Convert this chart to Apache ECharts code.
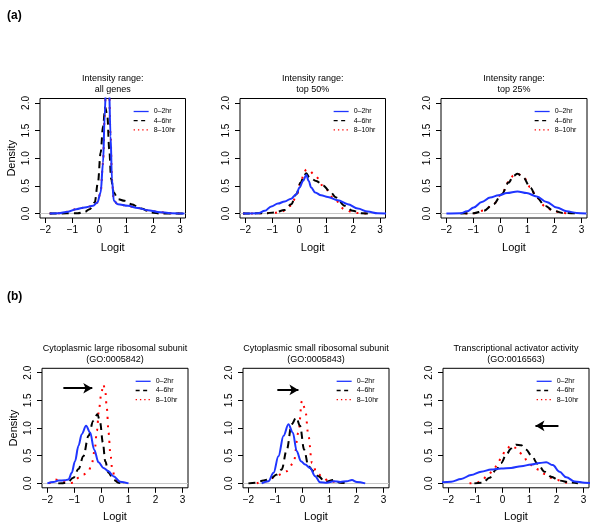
<!DOCTYPE html>
<html><head><meta charset="utf-8">
<script src="https://cdn.jsdelivr.net/npm/echarts@6/dist/echarts.min.js"></script>
<style>html,body{margin:0;padding:0;background:#fff}#c{width:600px;height:526px}</style>
</head><body><div id="c"></div>
<script>
// ---------- data ----------
const seriesNames = ['0–2hr', '4–6hr', '8–10hr'];
const panelTitles = [
  'Intensity range:\nall genes', 'Intensity range:\ntop 50%', 'Intensity range:\ntop 25%',
  'Cytoplasmic large ribosomal subunit\n(GO:0005842)',
  'Cytoplasmic small ribosomal subunit\n(GO:0005843)',
  'Transcriptional activator activity\n(GO:0016563)'
];
const xTicks = [-2, -1, 0, 1, 2, 3];
const yTicks = [0, 0.5, 1, 1.5, 2];

// (a) all genes
const a1_0_2 = [[-1.84,0],[-1.53,0.005],[-1.16,0.035],[-0.85,0.08],[-0.54,0.11],[-0.23,0.14],[-0.07,0.2],[0.05,0.38],[0.14,0.92],[0.2,1.76],[0.27,2.7],[0.35,2.5],[0.42,1.4],[0.47,0.62],[0.54,0.23],[0.69,0.17],[1.06,0.14],[1.43,0.1],[1.8,0.06],[2.17,0.03],[2.67,0.006],[3.16,0]];
const a1_4_6 = [[-1.84,0],[-0.8,0.005],[-0.54,0.03],[-0.36,0.08],[-0.17,0.2],[-0.05,0.56],[0.05,1.1],[0.14,1.58],[0.22,1.92],[0.3,1.76],[0.37,1.16],[0.44,0.62],[0.54,0.38],[0.69,0.26],[0.94,0.23],[1.19,0.17],[1.56,0.09],[1.93,0.02],[2.3,0],[3.16,0]];
const a1_8_10 = [[-1.84,0],[-1.53,0.005],[-1.16,0.035],[-0.85,0.08],[-0.54,0.11],[-0.23,0.14],[-0.07,0.2],[0.05,0.38],[0.14,0.92],[0.2,1.76],[0.27,2.7],[0.35,2.5],[0.42,1.4],[0.47,0.62],[0.54,0.23],[0.69,0.17],[1.06,0.14],[1.43,0.1],[1.8,0.06],[2.17,0.03],[2.67,0.006],[3.16,0]];
// (a) top 50%
const a2_0_2 = [[-2.09,0],[-1.53,0.005],[-1.28,0.05],[-1.04,0.13],[-0.79,0.18],[-0.54,0.22],[-0.3,0.27],[-0.11,0.35],[0.01,0.47],[0.14,0.59],[0.26,0.70],[0.35,0.59],[0.44,0.47],[0.59,0.38],[0.81,0.33],[1.06,0.30],[1.43,0.24],[1.8,0.17],[2.17,0.09],[2.54,0.036],[2.91,0.006],[3.22,0]];
const a2_4_6 = [[-2.09,0],[-1.28,0.005],[-0.91,0.02],[-0.54,0.066],[-0.3,0.17],[-0.11,0.35],[0.05,0.56],[0.17,0.68],[0.26,0.73],[0.38,0.65],[0.63,0.59],[0.88,0.51],[1.12,0.41],[1.37,0.29],[1.68,0.14],[1.99,0.05],[2.3,0.006],[2.67,0]];
const a2_8_10 = [[-2.09,0],[-1.28,0.005],[-0.91,0.015],[-0.67,0.036],[-0.3,0.14],[-0.11,0.32],[0.07,0.59],[0.18,0.74],[0.26,0.80],[0.38,0.77],[0.59,0.68],[0.94,0.47],[1.25,0.29],[1.68,0.08],[1.99,0.02],[2.3,0.004],[2.67,0]];
// (a) top 25%
const a3_0_2 = [[-2,0],[-1.48,0.006],[-1.24,0.04],[-0.99,0.11],[-0.69,0.21],[-0.38,0.29],[-0.07,0.33],[0.24,0.37],[0.63,0.40],[0.97,0.37],[1.34,0.31],[1.71,0.21],[2.08,0.11],[2.45,0.04],[2.82,0.012],[3.18,0]];
const a3_4_6 = [[-1.48,0],[-0.99,0.006],[-0.62,0.05],[-0.26,0.17],[0.05,0.35],[0.30,0.56],[0.48,0.68],[0.63,0.72],[0.85,0.65],[1.10,0.47],[1.34,0.29],[1.65,0.14],[1.96,0.05],[2.32,0.012],[2.94,0]];
const a3_8_10 = [[-1.3,0],[-0.99,0.008],[-0.62,0.055],[-0.26,0.17],[0.05,0.36],[0.30,0.57],[0.48,0.69],[0.63,0.72],[0.85,0.66],[1.10,0.48],[1.34,0.29],[1.65,0.13],[1.96,0.045],[2.32,0.01],[2.6,0]];
// (b) GO:0005842
const b1_0_2 = [[-2,0],[-1.78,0.025],[-1.59,0.05],[-1.35,0.055],[-1.22,0.07],[-1.10,0.19],[-0.98,0.40],[-0.85,0.68],[-0.73,0.89],[-0.57,1.04],[-0.42,0.92],[-0.27,0.61],[-0.11,0.38],[0.07,0.28],[0.26,0.22],[0.44,0.13],[0.69,0.03],[1.0,0]];
const b1_4_6 = [[-1.6,0],[-1.47,0.002],[-1.28,0.01],[-1.04,0.10],[-0.85,0.26],[-0.67,0.49],[-0.48,0.86],[-0.30,1.13],[-0.15,1.25],[-0.05,1.10],[0.05,0.74],[0.14,0.40],[0.26,0.19],[0.44,0.07],[0.63,0.01],[0.8,0]];
const b1_8_10 = [[-1.95,0],[-1.9,0.01],[-1.72,0.07],[-1.47,0.04],[-1.28,0.003],[-1.04,0.01],[-0.85,0.10],[-0.67,0.16],[-0.48,0.22],[-0.36,0.35],[-0.25,0.6],[-0.17,0.95],[-0.09,1.35],[0.0,1.65],[0.07,1.79],[0.14,1.66],[0.2,1.35],[0.26,0.92],[0.33,0.53],[0.40,0.25],[0.5,0.1],[0.63,0.02],[0.81,0]];
// (b) GO:0005843
const b2_0_2 = [[-1.51,0],[-1.26,0.04],[-1.07,0.19],[-0.89,0.49],[-0.70,0.86],[-0.52,1.07],[-0.36,0.92],[-0.21,0.58],[-0.06,0.40],[0.10,0.34],[0.28,0.28],[0.47,0.13],[0.65,0.02],[0.90,0.012],[1.15,0.04],[1.40,0.025],[1.64,0.04],[1.83,0.06],[2.01,0.025],[2.32,0]];
const b2_4_6 = [[-2,0],[-1.75,0.012],[-1.44,0.05],[-1.2,0.08],[-0.95,0.16],[-0.77,0.25],[-0.58,0.61],[-0.40,1.07],[-0.23,1.19],[-0.09,1.04],[0.06,0.61],[0.22,0.31],[0.41,0.22],[0.59,0.13],[0.84,0.024],[1.15,0.06],[1.40,0.012],[1.64,0]];
const b2_8_10 = [[-1.69,0],[-1.32,0.04],[-0.95,0.14],[-0.58,0.22],[-0.33,0.37],[-0.15,0.92],[-0.02,1.49],[0.10,1.34],[0.22,0.86],[0.35,0.37],[0.53,0.19],[0.78,0.10],[0.96,0.04],[1.27,0.025],[1.64,0]];
// (b) GO:0016563
const b3_0_2 = [[-2.4,0.008],[-1.90,0.03],[-1.53,0.08],[-1.16,0.15],[-0.79,0.21],[-0.42,0.25],[-0.05,0.27],[0.32,0.28],[0.69,0.31],[1.06,0.34],[1.37,0.37],[1.62,0.38],[1.86,0.33],[2.11,0.21],[2.36,0.11],[2.67,0.036],[3.04,0.012],[3.35,0]];
const b3_4_6 = [[-1.04,0],[-0.73,0.012],[-0.48,0.10],[-0.23,0.25],[-0.05,0.37],[0.14,0.52],[0.32,0.63],[0.51,0.70],[0.69,0.69],[0.88,0.61],[1.06,0.51],[1.31,0.35],[1.56,0.21],[1.80,0.12],[2.11,0.05],[2.48,0.018],[2.79,0]];
const b3_8_10 = [[-1.22,0],[-0.98,0.002],[-0.79,0.05],[-0.54,0.14],[-0.36,0.23],[-0.17,0.35],[-0.05,0.47],[0.14,0.62],[0.33,0.69],[0.45,0.65],[0.59,0.57],[0.75,0.52],[0.91,0.41],[1.12,0.31],[1.33,0.25],[1.56,0.17],[1.80,0.10],[2.04,0.06],[2.30,0.018],[2.48,0]];

// arrows (panel index, start, end) in data coords
const arrowPanels = [3, 4, 5];
const arrowStart = [[-1.41, 1.72], [-0.93, 1.69], [2.07, 1.04]];
const arrowEnd = [[-0.34, 1.72], [-0.15, 1.69], [1.22, 1.04]];

const panelData = [
  [a1_0_2, a1_4_6, a1_8_10], [a2_0_2, a2_4_6, a2_8_10], [a3_0_2, a3_4_6, a3_8_10],
  [b1_0_2, b1_4_6, b1_8_10], [b2_0_2, b2_4_6, b2_8_10], [b3_0_2, b3_4_6, b3_8_10]
];

// ---------- layout ----------
const FONT = '"Liberation Sans", Arial, Helvetica, sans-serif';
const grids = [
  {left: 40, top: 98.5, width: 145.5, height: 119.5},
  {left: 240, top: 98.5, width: 145.5, height: 119.5},
  {left: 441, top: 98.5, width: 146, height: 119.5},
  {left: 42, top: 368.3, width: 146, height: 119.5},
  {left: 243, top: 368.3, width: 146, height: 119.5},
  {left: 443, top: 368.3, width: 146, height: 119.5}
];
const styles = [
  {color: '#1f35ff', width: 2, type: 'solid'},
  {color: '#000000', width: 2, type: [7, 5]},
  {color: '#ff0000', width: 2, type: [2, 6]}
];
const legendLines = [
  {color: '#1f35ff', width: 1.3, type: 'solid'},
  {color: '#000000', width: 1.3, type: [4, 3.5]},
  {color: '#ff0000', width: 1.3, type: [1.3, 3]}
];
const drawOrder = [2, 1, 0]; // red, black, blue(top)

const option = {
  animation: false,
  backgroundColor: '#fff',
  textStyle: {fontFamily: FONT},
  title: [
    {text: '(a)', left: 7, top: 10, padding: 0, textStyle: {fontSize: 12, fontWeight: 'bold', color: '#000', fontFamily: FONT}},
    {text: '(b)', left: 7, top: 291, padding: 0, textStyle: {fontSize: 12, fontWeight: 'bold', color: '#000', fontFamily: FONT}}
  ],
  grid: [], xAxis: [], yAxis: [], legend: [], series: []
};

grids.forEach((g, i) => {
  option.grid.push({left: g.left, top: g.top, width: g.width, height: g.height,
    show: true, borderColor: '#000', borderWidth: 1, backgroundColor: 'transparent', containLabel: false});
  option.title.push({text: panelTitles[i], left: g.left + g.width / 2, top: g.top - 25.5, padding: 0,
    textAlign: 'center',
    textStyle: {fontSize: 9, fontWeight: 'normal', lineHeight: 11, color: '#000', fontFamily: FONT}});
  option.xAxis.push({type: 'value', gridIndex: i, min: -2.2, max: 3.2, position: 'bottom',
    name: 'Logit', nameLocation: 'middle', nameGap: 24,
    nameTextStyle: {fontSize: 11, color: '#000', fontFamily: FONT},
    axisLine: {show: false, onZero: false},
    axisTick: {show: true, length: 5, customValues: xTicks, lineStyle: {color: '#000', width: 1}},
    axisLabel: {show: true, customValues: xTicks, margin: 7, fontSize: 10, color: '#000', fontFamily: FONT,
      formatter: v => String(v).replace('-', '\u2212')},
    splitLine: {show: false}});
  option.yAxis.push({type: 'value', gridIndex: i, min: -0.08, max: 2.08, position: 'left',
    name: (i === 0 || i === 3) ? 'Density' : '', nameLocation: 'middle', nameGap: 23,
    nameTextStyle: {fontSize: 11, color: '#000', fontFamily: FONT},
    axisLine: {show: false, onZero: false},
    axisTick: {show: true, length: 5, customValues: yTicks, lineStyle: {color: '#000', width: 1}},
    axisLabel: {show: true, customValues: yTicks, rotate: 90, margin: 9, fontSize: 10, color: '#000', fontFamily: FONT,
      formatter: v => Number(v).toFixed(1)},
    splitLine: {show: false}});
  option.legend.push({orient: 'vertical', left: g.left + 93, top: g.top + 8.5, padding: 0,
    itemWidth: 15, itemHeight: 9, itemGap: 0.2, selectedMode: false,
    itemStyle: {opacity: 0},
    textStyle: {fontSize: 7, lineHeight: 9, color: '#000', fontFamily: FONT},
    data: seriesNames.map((n, k) => ({name: n, lineStyle: legendLines[k]}))});

  drawOrder.forEach((k, z) => {
    const s = {
      type: 'line', name: seriesNames[k], xAxisIndex: i, yAxisIndex: i,
      data: panelData[i][k], showSymbol: false, symbol: 'none', smooth: 0.35, smoothMonotone: 'x',
      clip: true, z: 2 + z,
      lineStyle: {color: styles[k].color, width: styles[k].width, type: styles[k].type, cap: 'butt'},
      itemStyle: {color: styles[k].color},
      emphasis: {disabled: true}, silent: true
    };
    if (k === 2) {
      s.markLine = {silent: true, symbol: ['none', 'none'], label: {show: false}, z: 1,
        lineStyle: {color: '#c8c8c8', width: 1, type: 'solid'},
        data: [{yAxis: 0}]};
    }
    if (k === 0) {
      const ai = arrowPanels.indexOf(i);
      if (ai >= 0) {
        s.markLine = {silent: true, symbol: ['none', 'arrow'], symbolSize: [8, 9], label: {show: false},
          lineStyle: {color: '#000', width: 2, type: 'solid'},
          data: [[{coord: arrowStart[ai]}, {coord: arrowEnd[ai]}]]};
      }
    }
    option.series.push(s);
  });
});

const chart = echarts.init(document.getElementById('c'), null, {renderer: 'canvas'});
chart.setOption(option);
</script></body></html>
